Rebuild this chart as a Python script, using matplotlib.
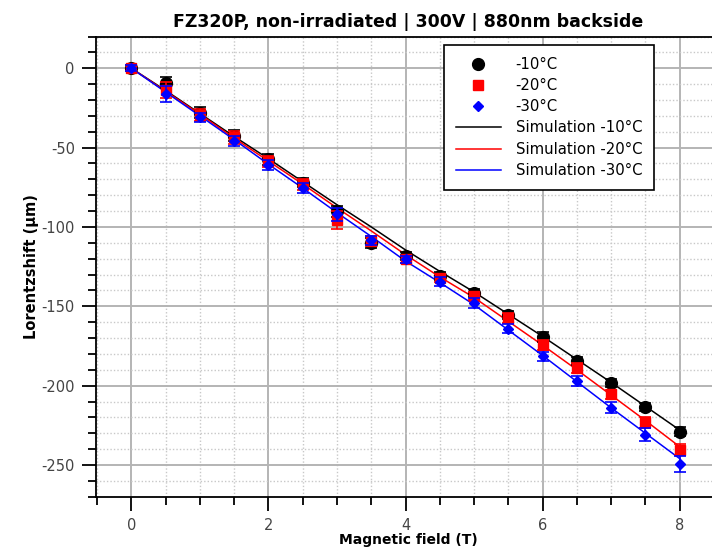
import numpy as np
import matplotlib
matplotlib.use("Agg")
import matplotlib.pyplot as plt
from matplotlib.ticker import MultipleLocator

plt.rcParams["axes.unicode_minus"] = False

# field values (T)
field = [0, 0.5, 1, 1.5, 2, 2.5, 3, 3.5, 4, 4.5, 5, 5.5, 6, 6.5, 7, 7.5, 8]

# measured Lorentz shift (um)
meas_m10 = [0, -9, -28, -42.5, -57.5, -72, -90, -110, -118.5, -131, -141.5, -155.5, -169.5, -184.5, -198.5, -213.5, -229]
meas_m20 = [0, -13.5, -29.5, -43.5, -58.5, -73, -95.5, -109, -120.5, -132, -143.5, -157.5, -174.5, -189, -205.5, -223, -240.5]
meas_m30 = [0, -16, -31, -46, -61, -75.5, -92, -108.5, -120.5, -134.5, -148, -164, -181.5, -197, -214, -231, -249.5]

err_m10 = [2, 3.5, 3.5, 3.5, 3.5, 3, 3.5, 3, 2.5, 2.5, 2.5, 2.5, 3, 2.5, 2.5, 2.5, 3]
err_m20 = [2, 5, 4, 4, 3.5, 3.5, 5.5, 3, 2.5, 2.5, 2.5, 3, 3, 3, 3, 3.5, 3.5]
err_m30 = [2, 5, 3, 3, 3, 3, 4, 3, 2.5, 3, 3, 3, 3, 3, 3.5, 4, 5]

# simulation curves (um)
sim_m10 = [0, -14, -28.5, -43, -57, -71.5, -86, -100, -114.5, -128, -141, -155, -169, -183.5, -198, -213, -228]
sim_m20 = [0, -14.5, -29, -44, -58.5, -73, -88, -102.5, -117.5, -131.5, -144.5, -159.5, -174.5, -190, -206, -222, -238.5]
sim_m30 = [0, -15, -30, -45, -60.5, -75.5, -91, -106, -121.5, -135, -149, -165, -181, -197.5, -214, -230, -246]

fig = plt.figure(figsize=(7.12, 5.54), dpi=100)
ax = fig.add_axes([0.1344, 0.1034, 0.878, 0.8307])

grey = "#b4b4b4"
ax.grid(True, which="major", color=grey, linewidth=1.4, linestyle="-")
ax.grid(True, which="minor", color="#c8c8c8", linewidth=1.0, linestyle=(0, (1, 1.5)))
ax.set_axisbelow(True)

# simulation lines
ax.plot(field, sim_m10, color="black", lw=1.1, label="Simulation -10°C", zorder=3)
ax.plot(field, sim_m20, color="red", lw=1.1, label="Simulation -20°C", zorder=3)
ax.plot(field, sim_m30, color="blue", lw=1.1, label="Simulation -30°C", zorder=3)

# measurements
ax.errorbar(field, meas_m10, yerr=err_m10, fmt="o", color="black", ms=8.5,
            capsize=4, elinewidth=1.2, capthick=1.2, label="-10°C", zorder=4)
ax.errorbar(field, meas_m20, yerr=err_m20, fmt="s", color="red", ms=7.5,
            capsize=4, elinewidth=1.2, capthick=1.2, label="-20°C", zorder=5)
ax.errorbar(field, meas_m30, yerr=err_m30, fmt="D", color="blue", ms=5,
            capsize=4, elinewidth=1.2, capthick=1.2, label="-30°C", zorder=6)

ax.set_xlim(-0.52, 8.6)
ax.set_ylim(-270, 20)
ax.xaxis.set_major_locator(MultipleLocator(2))
ax.xaxis.set_minor_locator(MultipleLocator(0.5))
ax.yaxis.set_major_locator(MultipleLocator(50))
ax.yaxis.set_minor_locator(MultipleLocator(10))

ax.tick_params(which="major", length=10, width=1.3, labelsize=10.5, labelcolor="#444444", pad=5)
ax.tick_params(which="minor", length=6, width=1.3)
for s in ["left", "bottom", "top"]:
    ax.spines[s].set_linewidth(1.3)

ax.set_title("FZ320P, non-irradiated | 300V | 880nm backside", fontsize=12.5, fontweight="bold", pad=7)
ax.set_xlabel("Magnetic field (T)", fontsize=10, fontweight="bold", labelpad=0)
ax.set_ylabel("Lorentzshift (µm)", fontsize=10.5, fontweight="bold", labelpad=2)

handles, labels = ax.get_legend_handles_labels()
order = [3, 4, 5, 0, 1, 2]
handles = [h[0] if isinstance(h, matplotlib.container.ErrorbarContainer) else h for h in handles]
leg = ax.legend([handles[i] for i in order], [labels[i] for i in order],
                loc="upper right", bbox_to_anchor=(0.9185, 0.919), bbox_transform=fig.transFigure,
                borderaxespad=0, fontsize=10.7, fancybox=False, framealpha=1, edgecolor="black",
                handlelength=3, handletextpad=1.0, borderpad=0.8, labelspacing=0.42)
leg.get_frame().set_linewidth(1.2)

fig.savefig("out.png", dpi=100)
